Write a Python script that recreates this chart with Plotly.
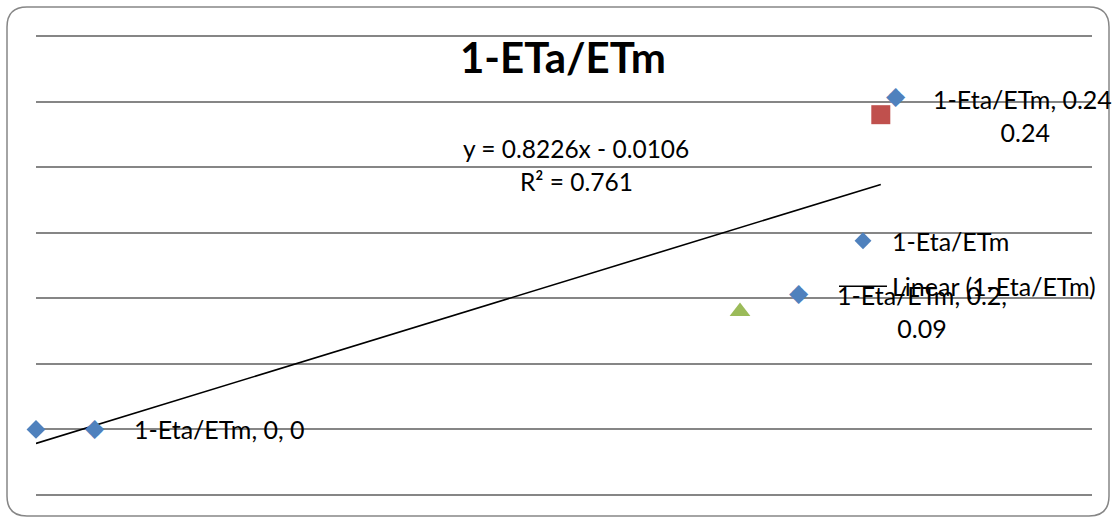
import numpy as np
import plotly.graph_objects as go

# ---- data ----
series_name = "1-Eta/ETm"
x_vals = [0.0, 0.2, 0.24]
y_vals = [0.0, 0.09, 0.24]
label_texts = ["1-Eta/ETm, 0, 0", "1-Eta/ETm, 0.2,<br>0.09", "1-Eta/ETm, 0.24,<br>0.24"]
title_text = "1-ETa/ETm"

# ---- styles ----
point_symbols = ["diamond", "triangle-up", "square"]
point_colors = ["#4F81BD", "#9BBB59", "#C0504D"]
point_sizes = [14.5, 18, 19]
# pixel offsets of the data-label key (diamond) and the label text from each point
key_shift = [(59, 2), (59, 19), (15, 19)]
text_shift = [(96, 0), (95, 0), (50, -1)]

FONT = "Lato"
FS = 25
GRID = "#868686"

# layout geometry (pixels)
FIG_W, FIG_H = 1112, 520
ML, MR, MT, MB = 36, 20, 34, 23
W = FIG_W - ML - MR
H = FIG_H - MT - MB
pad = 2 / 1311.0  # keep edge gridlines just inside the plot area


def pxx(px):
    return (px - ML) / W


def pxy(py):
    return (FIG_H - MB - py) / H


# linear trendline
slope, intercept = np.polyfit(x_vals, y_vals, 1)
pred = slope * np.array(x_vals) + intercept
ss_res = np.sum((np.array(y_vals) - pred) ** 2)
ss_tot = np.sum((np.array(y_vals) - np.mean(y_vals)) ** 2)
r2 = 1 - ss_res / ss_tot
trend_x = np.array([min(x_vals), max(x_vals)])
trend_y = slope * trend_x + intercept
sign = "-" if intercept < 0 else "+"
eq_text = f"y = {slope:.4f}x {sign} {abs(intercept):.4f}"
r2_text = f"R² = {r2:.3f}"

fig = go.Figure()
fig.add_trace(go.Scatter(
    x=x_vals, y=y_vals, mode="markers", name=series_name,
    marker=dict(symbol=point_symbols, color=point_colors, size=point_sizes,
                opacity=1, line=dict(width=0)),
    cliponaxis=False, showlegend=False,
))
# legend key for the series (legend-only entry, no data drawn)
fig.add_trace(go.Scatter(
    x=[None], y=[None], mode="markers", name=series_name,
    marker=dict(symbol="diamond", color=point_colors[0], size=13, line=dict(width=0)),
    legendgroup="a",
))
fig.add_trace(go.Scatter(
    x=trend_x, y=trend_y, mode="lines", name=f"Linear ({series_name})",
    line=dict(color="black", width=1.6),
    legendgroup="b",
))

annotations = []
for xv, yv, txt, ks, ts in zip(x_vals, y_vals, label_texts, key_shift, text_shift):
    annotations.append(dict(
        x=xv, y=yv, xref="x", yref="y", text="◆", showarrow=False,
        xshift=ks[0], yshift=ks[1], xanchor="center", yanchor="middle",
        font=dict(family="DejaVu Sans", size=25, color="#4F81BD"),
    ))
    annotations.append(dict(
        x=xv, y=yv, xref="x", yref="y", text=txt, showarrow=False,
        xshift=ts[0], yshift=ts[1], xanchor="left", yanchor="middle", align="center",
        font=dict(family=FONT, size=FS, color="black"),
    ))

annotations.append(dict(x=pxx(576), y=pxy(148), xref="paper", yref="paper", text=eq_text,
                        showarrow=False, xanchor="center", yanchor="middle",
                        font=dict(family=FONT, size=24.5, color="black")))
annotations.append(dict(x=pxx(576), y=pxy(181), xref="paper", yref="paper", text=r2_text,
                        showarrow=False, xanchor="center", yanchor="middle",
                        font=dict(family=FONT, size=24.5, color="black")))

# rounded chart border (paper coordinates, drawn beyond plot area)
x0, x1 = pxx(7), pxx(1109)
y0, y1 = pxy(516), pxy(7)
rx, ry = 20 / W, 20 / H
path = (f"M {x0+rx},{y1} L {x1-rx},{y1} Q {x1},{y1} {x1},{y1-ry} "
        f"L {x1},{y0+ry} Q {x1},{y0} {x1-rx},{y0} L {x0+rx},{y0} "
        f"Q {x0},{y0} {x0},{y0+ry} L {x0},{y1-ry} Q {x0},{y1} {x0+rx},{y1} Z")

fig.update_layout(
    width=FIG_W, height=FIG_H,
    margin=dict(l=ML, r=MR, t=MT, b=MB, autoexpand=False),
    paper_bgcolor="white", plot_bgcolor="white",
    title=dict(text=f"<b>{title_text}</b>", x=0.499, xref="paper", y=1 - 58 / FIG_H,
               yref="container", xanchor="center", yanchor="middle",
               font=dict(family=FONT, size=42, color="black")),
    xaxis=dict(range=[0, 0.3], showgrid=False, zeroline=False, showticklabels=False,
               showline=False, ticks=""),
    yaxis=dict(range=[-0.05 - pad, 0.3 + pad], dtick=0.05, tick0=0, showgrid=True,
               gridcolor=GRID, gridwidth=1.5, zeroline=False, showticklabels=False,
               showline=False, ticks=""),
    showlegend=True,
    legend=dict(x=pxx(834), y=pxy(218), xanchor="left", yanchor="top",
                bgcolor="rgba(0,0,0,0)", font=dict(family=FONT, size=FS, color="black"),
                traceorder="grouped", tracegroupgap=10, itemwidth=48),
    annotations=annotations,
    shapes=[dict(type="path", path=path, xref="paper", yref="paper",
                 line=dict(color="#868686", width=1.5), layer="above")],
)

fig.write_html("out.html", config={"displayModeBar": False},
               post_script="document.body.style.margin='0';")
